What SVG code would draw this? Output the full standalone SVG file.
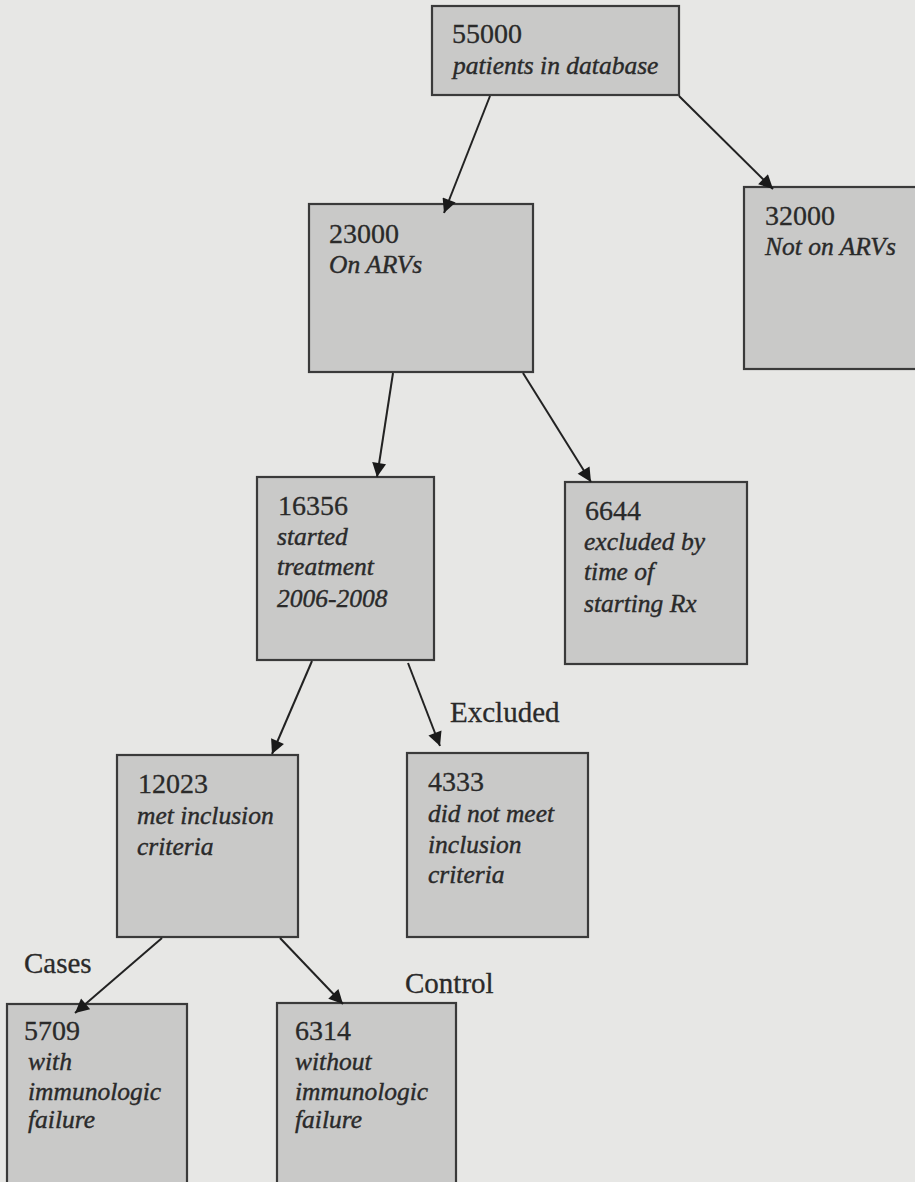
<svg xmlns="http://www.w3.org/2000/svg" width="915" height="1182" viewBox="0 0 915 1182">
<style>
.bg{fill:#e7e7e5}
.box{fill:#c9c9c8;stroke:#3a3a3a;stroke-width:2.2}
.num{font-family:"Liberation Serif",serif;font-size:28px;fill:#2a2a2a;stroke:#2a2a2a;stroke-width:0.3}
.it{font-family:"Liberation Serif",serif;font-size:25.5px;font-style:italic;fill:#2a2a2a;stroke:#2a2a2a;stroke-width:0.4}
.lbl{font-family:"Liberation Serif",serif;font-size:29px;fill:#2a2a2a;stroke:#2a2a2a;stroke-width:0.3}
.edge{stroke:#222;stroke-width:2;fill:none;marker-end:url(#ah)}
</style>
<defs>
<marker id="ah" viewBox="0 0 10 10" refX="10" refY="5" markerWidth="9" markerHeight="7" markerUnits="strokeWidth" orient="auto">
<path d="M0,0 L10,5 L0,10 z" fill="#1a1a1a"/>
</marker>
</defs>
<rect class="bg" x="0" y="0" width="915" height="1182"/>
<g id="n55000">
<rect class="box" x="432" y="6" width="247" height="89"/>
<text class="num" x="452" y="43">55000</text>
<text class="it" x="453" y="74">patients in  database</text>
</g>
<g id="n23000">
<rect class="box" x="309" y="204" width="224" height="168"/>
<text class="num" x="329" y="243">23000</text>
<text class="it" x="329" y="273">On ARVs</text>
</g>
<g id="n32000">
<rect class="box" x="744" y="187" width="180" height="182"/>
<text class="num" x="765" y="225">32000</text>
<text class="it" x="765" y="255">Not on ARVs</text>
</g>
<g id="n16356">
<rect class="box" x="257" y="477" width="177" height="183"/>
<text class="num" x="278" y="515">16356</text>
<text class="it" x="277" y="545">started</text>
<text class="it" x="277" y="575">treatment</text>
<text class="it" x="277" y="607">2006-2008</text>
</g>
<g id="n6644">
<rect class="box" x="565" y="482" width="182" height="182"/>
<text class="num" x="585" y="520">6644</text>
<text class="it" x="584" y="550">excluded by</text>
<text class="it" x="584" y="580">time of</text>
<text class="it" x="584" y="612">starting Rx</text>
</g>
<g id="n12023">
<rect class="box" x="117" y="755" width="181" height="182"/>
<text class="num" x="138" y="793">12023</text>
<text class="it" x="137" y="824">met inclusion</text>
<text class="it" x="137" y="855">criteria</text>
</g>
<g id="n4333">
<rect class="box" x="407" y="753" width="181" height="184"/>
<text class="num" x="428" y="791">4333</text>
<text class="it" x="428" y="822">did not meet</text>
<text class="it" x="428" y="853">inclusion</text>
<text class="it" x="428" y="883">criteria</text>
<text class="lbl" x="450" y="722">Excluded</text>
</g>
<g id="n5709">
<rect class="box" x="7" y="1004" width="180" height="190"/>
<text class="num" x="24" y="1040">5709</text>
<text class="it" x="28" y="1070">with</text>
<text class="it" x="28" y="1100">immunologic</text>
<text class="it" x="28" y="1128">failure</text>
<text class="lbl" x="24" y="973">Cases</text>
</g>
<g id="n6314">
<rect class="box" x="277" y="1003" width="179" height="190"/>
<text class="num" x="295" y="1040">6314</text>
<text class="it" x="295" y="1070">without</text>
<text class="it" x="295" y="1100">immunologic</text>
<text class="it" x="295" y="1128">failure</text>
<text class="lbl" x="405" y="993">Control</text>
</g>
<g id="connectors">
<line class="edge" x1="490" y1="96" x2="444" y2="213"/>
<line class="edge" x1="679" y1="96" x2="773" y2="189"/>
<line class="edge" x1="393" y1="373" x2="377" y2="477"/>
<line class="edge" x1="523" y1="373" x2="591" y2="482"/>
<line class="edge" x1="312" y1="661" x2="272" y2="754"/>
<line class="edge" x1="408" y1="663" x2="440" y2="746"/>
<line class="edge" x1="162" y1="938" x2="75" y2="1013"/>
<line class="edge" x1="280" y1="938" x2="343" y2="1004"/>
</g>
</svg>
